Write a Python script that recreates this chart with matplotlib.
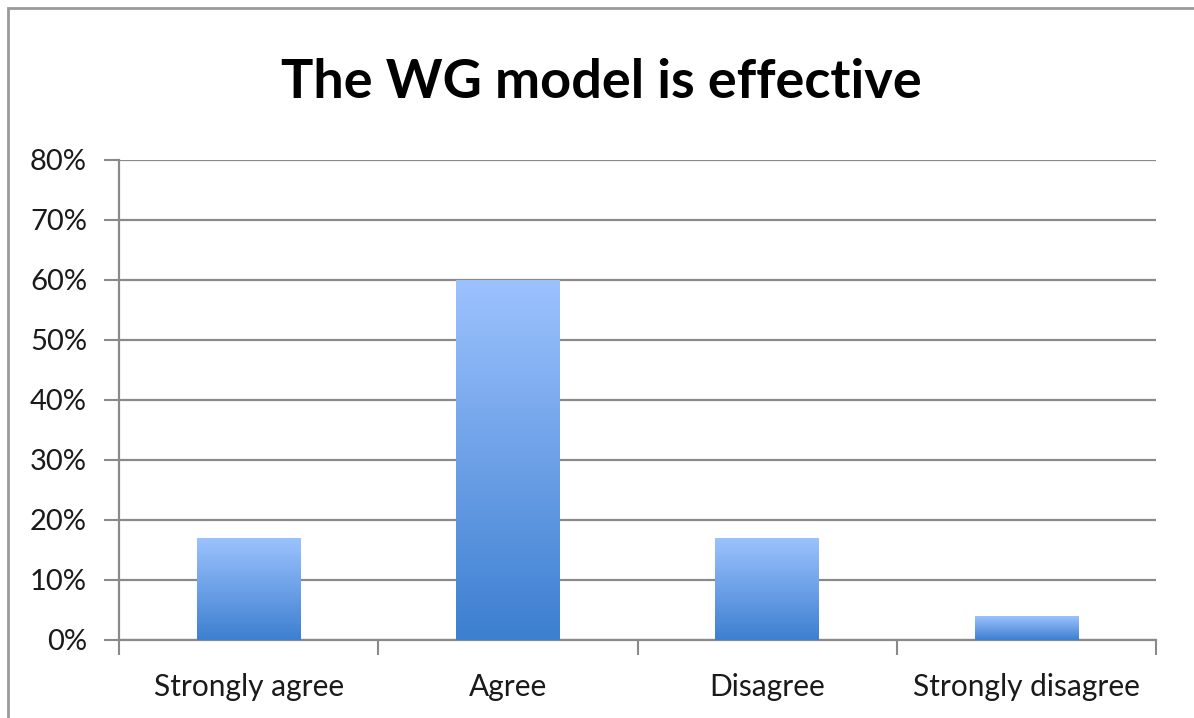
import matplotlib
matplotlib.use("Agg")
import matplotlib.pyplot as plt
import numpy as np
from matplotlib.colors import LinearSegmentedColormap
from matplotlib.patches import Rectangle

categories = ["Strongly agree", "Agree", "Disagree", "Strongly disagree"]
values = [17, 60, 17, 4]  # percent
yticks = [0, 10, 20, 30, 40, 50, 60, 70, 80]

plt.rcParams['font.family'] = ['Lato', 'DejaVu Sans']

fig = plt.figure(figsize=(11.94, 7.18), dpi=100)
ax = fig.add_axes([119/1194, 1-640/718, (1156-119)/1194, (640-160)/718])

grid_col = "#8a8a8a"
x = np.arange(len(categories))
bars = ax.bar(x, values, width=0.4, color="none", edgecolor="none", zorder=3)

# vertical gradient in each bar
cmap = LinearSegmentedColormap.from_list("blu", ["#3d7fd0", "#9cc2fe"])
grad = np.linspace(0, 1, 256).reshape(-1, 1)
for b in bars:
    x0, y0 = b.get_x(), b.get_y()
    w, h = b.get_width(), b.get_height()
    ax.imshow(grad, cmap=cmap, origin="lower", aspect="auto",
              extent=[x0, x0 + w, y0, y0 + h], zorder=3)

ax.set_xlim(-0.5, 3.5)
ax.set_ylim(0, 80)
ax.set_yticks(yticks)
ax.set_yticklabels([f"{t}%" for t in yticks], fontsize=21, color="#1a1a1a")
ax.set_xticks(np.arange(-0.5, 4, 1))
ax.set_xticklabels([])
ax.set_xticks(x, minor=True)
ax.set_xticklabels(categories, minor=True, fontsize=21.5, color="#1a1a1a")
ax.tick_params(axis="x", which="minor", length=0, pad=24)
ax.tick_params(axis="x", which="major", length=11, width=1.5, color=grid_col)
ax.tick_params(axis="y", length=11, width=1.5, color=grid_col, pad=12)

ax.yaxis.grid(True, color=grid_col, linewidth=1.6, zorder=0)
ax.set_axisbelow(True)
for s in ["top", "right"]:
    ax.spines[s].set_visible(False)
for s in ["left", "bottom"]:
    ax.spines[s].set_color(grid_col)
    ax.spines[s].set_linewidth(1.6)

fig.text(601/1194, 1-82/718, "The WG model is effective", ha="center", va="center",
         fontsize=39, fontweight="bold", color="black")

# chart frame
fig.patches.append(Rectangle((8/1194, -0.1), 1.2, 1-8/718+0.1, transform=fig.transFigure,
                             fill=False, edgecolor="#9a9a9a", linewidth=2))

fig.savefig("out.png", dpi=100)
